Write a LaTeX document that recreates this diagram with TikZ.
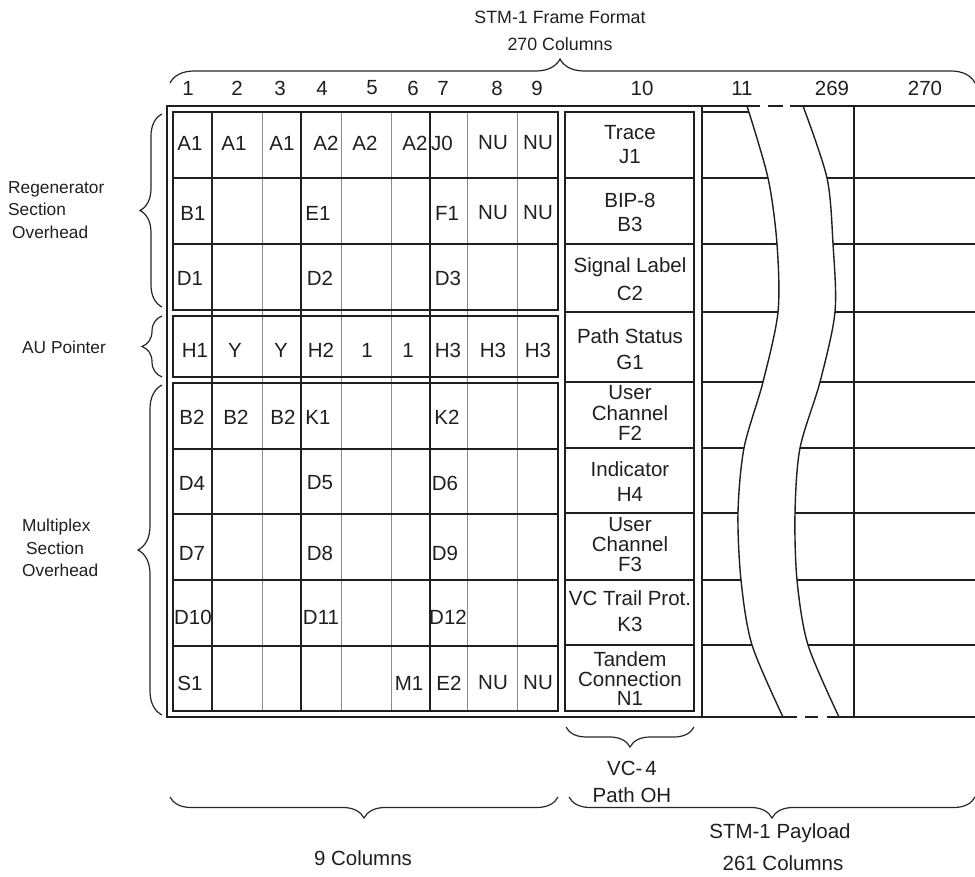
\documentclass[tikz,border=0pt]{standalone}
\usepackage{fontspec}
\setmainfont{Liberation Sans}
\usetikzlibrary{decorations.pathreplacing}
\begin{document}
\begin{tikzpicture}[x=1pt,y=-1pt,
  every node/.style={inner sep=0pt, text=black!88},
  cell/.style={font=\fontsize{20.5}{24}\selectfont},
  ttl/.style={font=\fontsize{17.8}{22}\selectfont},
  poh/.style={align=center, font=\fontsize{20.5}{#1}\selectfont},
  side/.style={anchor=west, align=left, font=\fontsize{17.3}{22.5}\selectfont},
  frame/.style={line width=1.4pt, draw=black!88},
  boxl/.style={line width=1.8pt, draw=black!88},
  grayl/.style={line width=1pt, draw=black!45},
  darkthin/.style={line width=1.1pt, draw=black!85},
  brc/.style={decorate, decoration={brace, amplitude=#1}, line width=1.2pt, draw=black!85}
]
\useasboundingbox (0,0) rectangle (975,877);

% title and top brace
\node[ttl] (t1) at (560,17) {STM-1 Frame Format};
\node[ttl] (t2) at (560,44) {270 Columns};
\draw[decorate, decoration={brace, amplitude=24pt, aspect=0.4845}, line width=1.2pt, draw=black!85] (170,83) -- (975,83);

% column numbers
\foreach \x/\t [count=\i] in {188/1,237/2,280/3,322/4,372/5,413/6,443/7,497/8,537/9,642/10,742/11,832/269,925/270}
  \node[cell] (n\i) at (\x,88) {\t};

% outer frame
\draw[frame] (760,106) -- (167,106) -- (167,717) -- (797,717);
\draw[frame] (768,106) -- (783,106);
\draw[frame] (790,106) -- (975,106);
\draw[frame] (805,717) -- (818,717);
\draw[frame] (827,717) -- (975,717);
\draw[frame] (702,106) -- (702,717);
\draw[frame] (854,106) -- (854,717);

% 9-column overhead grid
\foreach \x in {262,341,391,467,517} \draw[grayl] (\x,112) -- (\x,711);
\draw[darkthin] (212,112) -- (212,711);
\foreach \x in {301,430} \draw[frame] (\x,112) -- (\x,711);
\draw[frame] (173,112) rectangle (558,310);
\draw[frame] (173,316) rectangle (558,377);
\draw[frame] (173,383) rectangle (558,711);
\foreach \y in {178,244,449,514,580,646} \draw[frame] (173,\y) -- (558,\y);

% cell labels
\foreach \x/\y/\t [count=\i] in {
  190/143/A1,234/143/A1,282/143/A1,326/143/A2,365/143/A2,415/143/A2,442/143/J0,493/143/NU,538/143/NU,
  193/213/B1,318/213/E1,447/213/F1,493/213/NU,538/213/NU,
  190/278/D1,320/278/D2,448/278/D3,
  195/350/H1,235/350/Y,281/350/Y,321/350/H2,367/350/1,408/350/1,448/350/H3,493/350/H3,538/350/H3,
  192/417/B2,236/417/B2,283/417/B2,318/417/K1,447/417/K2,
  192/483/D4,320/483/D5,445/483/D6,
  192/553/D7,320/553/D8,445/553/D9,
  193/617/D10,321/617/D11,448/617/D12,
  190/683/S1,409/683/M1,449/683/E2,493/683/NU,538/683/NU}
  \node[cell] (c\i) at (\x,\y) {\t};

% VC-4 path overhead column
\draw[boxl] (565,112) rectangle (694,711);
\foreach \y in {178,244,312,382,448,513,580,645} \draw[boxl] (565,\y) -- (694,\y);
\node[poh=24] (j1) at (630,145) {Trace\\J1};
\node[poh=24] (b3) at (630,212) {BIP-8\\B3};
\node[poh=28] (c2) at (630,279) {Signal Label\\C2};
\node[poh=26] (g1) at (630,349) {Path Status\\G1};
\node[poh=20.5] (f2) at (630,413) {User\\Channel\\F2};
\node[poh=25] (h4) at (630,482) {Indicator\\H4};
\node[poh=20] (f3) at (630,545) {User\\Channel\\F3};
\node[poh=26] (k3) at (630,611) {VC Trail Prot.\\K3};
\node[poh=19.5] (n1) at (630,679) {Tandem\\Connection\\N1};

% payload: break curves
\draw[frame] plot[smooth] coordinates {(747,106) (768,178) (777,244) (778,312) (763,382) (744,448) (738,513) (741,580) (752,645) (783,717)};
\draw[frame] plot[smooth] coordinates {(803,106) (827,178) (833,244) (835,312) (820,382) (800,448) (795,513) (797,580) (808,645) (839,717)};
\draw[frame] (702,112) -- (749,112);
\foreach \y/\l/\r in {178/768/827,244/777/833,312/778/835,382/763/820,448/744/800,513/738/795,580/741/797,645/752/808} {
  \draw[frame] (702,\y) -- (\l,\y);
  \draw[frame] (\r,\y) -- (975,\y);
}

% left braces and labels
\draw[brc=22pt] (162,307) -- (162,114);
\draw[brc=20pt] (162,377) -- (162,316);
\draw[brc=24pt] (162,715) -- (162,385);
\node[side] (rsoh) at (8,210) {Regenerator\\Section\\\hspace*{4pt}Overhead};
\node[side] (aup) at (22,347) {AU Pointer};
\node[side] (msoh) at (22,548) {Multiplex\\\hspace*{4pt}Section\\Overhead};

% bottom braces and labels
\draw[brc=20pt] (694,727) -- (566,727);
\draw[brc=21pt] (558,797) -- (170,797);
\draw[brc=21pt] (975,797) -- (569,797);
\node[cell] (vca) at (632,768) {VC-\hspace{3pt}4};
\node[cell] (vcb) at (632,795) {Path OH};
\node[cell] (nine) at (363,858) {9 Columns};
\node[cell] (pay1) at (780,833) {STM-1 Payload};
\node[cell] (pay2) at (783,863) {261 Columns};
\end{tikzpicture}
\end{document}
